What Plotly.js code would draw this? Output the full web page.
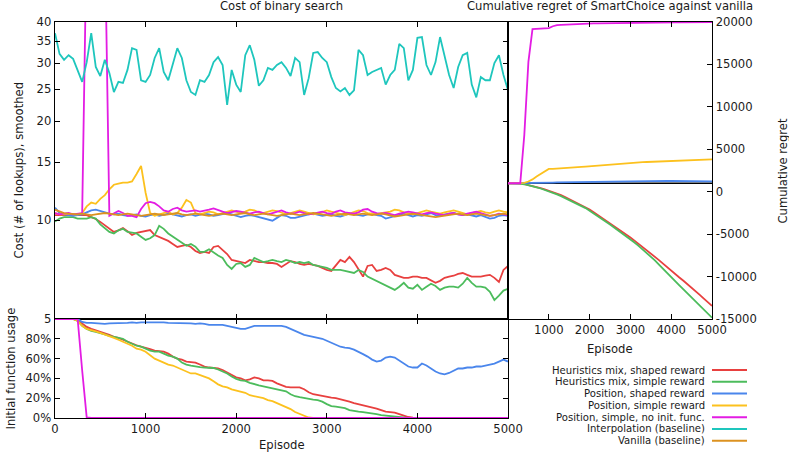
<!DOCTYPE html>
<html>
<head>
<meta charset="utf-8">
<script src="https://cdn.plot.ly/plotly-3.0.1.min.js"></script>
<style>
html,body{margin:0;padding:0;background:#fff;}
#chart{width:789px;height:455px;}
</style>
</head>
<body>
<div id="chart"></div>
<script>
// ---------------- DATA ----------------
const episodes = [0,50,100,150,200,250,300,350,400,450,500,550,600,650,700,750,800,850,900,950,
1000,1050,1100,1150,1200,1250,1300,1350,1400,1450,1500,1550,1600,1650,1700,1750,1800,1850,1900,1950,
2000,2050,2100,2150,2200,2250,2300,2350,2400,2450,2500,2550,2600,2650,2700,2750,2800,2850,2900,2950,
3000,3050,3100,3150,3200,3250,3300,3350,3400,3450,3500,3550,3600,3650,3700,3750,3800,3850,3900,3950,
4000,4050,4100,4150,4200,4250,4300,4350,4400,4450,4500,4550,4600,4650,4700,4750,4800,4850,4900,4950,5000];

const seriesNames = [
  "Heuristics mix, shaped reward",
  "Heuristics mix, simple reward",
  "Position, shaped reward",
  "Position, simple reward",
  "Position, simple, no init. func.",
  "Interpolation (baseline)",
  "Vanilla (baseline)"
];
const seriesColors = ["#e8403f","#4cbc5c","#4a86ec","#fcc11e","#e31ce3","#1ec6bd","#dc9220"];

// Cost of binary search (smoothed), per series
const costHeurShaped = [10.35,10.35,10.3,10.35,10.3,10.35,10.3,10.35,10.2,10.07,
 9.87,9.66,9.4,9.2,9.3,9.45,9.25,9.0,9.14,9.2,
 9.25,9.32,9.0,8.88,8.76,8.64,8.46,8.28,8.34,8.4,
 8.28,8.05,7.94,8.0,7.94,8.28,8.34,8.11,7.88,7.56,
 7.5,7.45,7.4,7.56,7.5,7.45,7.45,7.4,7.4,7.35,
 7.2,7.35,7.5,7.45,7.35,7.3,7.35,7.3,7.25,7.15,
 7.05,7.0,7.25,7.56,7.45,7.72,7.45,7.05,6.73,7.25,
 7.3,7.0,7.05,7.15,7.05,6.81,6.73,6.67,6.67,6.73,
 6.73,6.67,6.67,6.57,6.44,6.53,6.67,6.73,6.77,6.86,
 6.9,6.81,6.73,6.73,6.73,6.77,6.81,6.67,6.48,7.05,
 7.25];
const costHeurSimple = [9.9,10.1,10.2,10.2,10.2,10.1,10.1,10.1,10.2,10.1,
 9.7,9.45,9.2,9.1,9.3,9.4,9.2,9.15,9.1,8.9,
 8.7,8.8,9.0,9.6,9.4,9.1,8.9,8.7,8.5,8.35,
 8.45,8.3,8.0,8.0,8.15,7.95,7.8,7.67,7.3,7.1,
 7.35,7.4,7.2,7.3,7.67,7.56,7.45,7.5,7.56,7.5,
 7.45,7.56,7.5,7.4,7.45,7.4,7.45,7.3,7.25,7.2,
 7.15,7.05,7.05,7.05,7.0,6.95,6.9,7.05,6.95,6.73,
 6.62,6.53,6.44,6.3,6.23,6.13,6.27,6.44,6.23,6.18,
 6.35,6.13,6.27,6.4,6.3,6.13,6.23,6.27,6.27,6.23,
 6.4,6.67,6.44,6.27,6.27,6.23,6.05,5.71,5.89,6.1,
 6.18];
const costPosShaped = [10.9,10.5,10.4,10.35,10.3,10.35,10.4,10.55,10.7,10.75,
 10.65,10.5,10.45,10.4,10.45,10.35,10.3,10.35,10.4,10.3,
 10.25,10.35,10.4,10.3,10.35,10.45,10.4,10.3,10.25,10.35,
 10.4,10.3,10.35,10.45,10.4,10.3,10.35,10.4,10.5,10.4,
 10.3,10.2,10.3,10.35,10.3,10.2,10.15,10.05,9.95,10.15,
 10.35,10.3,10.15,10.15,10.25,10.35,10.4,10.45,10.35,10.3,
 10.35,10.4,10.3,10.25,10.35,10.45,10.4,10.35,10.3,10.4,
 10.45,10.35,10.3,10.1,10.2,10.3,10.4,10.45,10.35,10.25,
 10.35,10.3,10.4,10.5,10.35,10.3,10.4,10.45,10.5,10.4,
 10.35,10.4,10.3,10.25,10.35,10.2,10.1,10.15,10.3,10.35,
 10.3];
const costPosSimple = [10.5,10.4,10.4,10.45,10.4,10.4,10.5,11.0,11.3,11.2,
 11.6,11.9,12.4,12.8,12.9,13.0,13.0,13.1,13.8,14.6,
 12.1,10.5,10.3,10.4,10.5,10.6,10.4,10.5,10.9,11.5,
 11.3,10.5,10.4,10.5,10.6,10.55,10.4,10.5,10.6,10.7,
 10.6,10.5,10.6,10.75,10.7,10.55,10.5,10.6,10.7,10.65,
 10.5,10.4,10.5,10.6,10.7,10.6,10.5,10.4,10.45,10.55,
 10.7,10.6,10.5,10.4,10.35,10.45,10.6,10.7,10.65,10.5,
 10.45,10.4,10.5,10.55,10.6,10.75,10.7,10.55,10.45,10.4,
 10.5,10.6,10.7,10.6,10.5,10.45,10.55,10.65,10.7,10.6,
 10.5,10.4,10.5,10.6,10.65,10.55,10.5,10.6,10.7,10.6,
 10.55];
const costPosNoInit = [10.5,10.4,10.45,10.5,10.4,10.45,10.5,75,75,75,
 75,75,10.3,10.5,10.65,10.5,10.3,10.3,10.2,10.8,
 11.25,11.35,11.25,11.0,10.7,10.6,10.8,10.9,10.7,10.6,
 10.65,10.7,10.6,10.65,10.75,10.85,10.7,10.6,10.5,10.55,
 10.65,10.6,10.5,10.45,10.55,10.6,10.5,10.4,10.5,10.6,
 10.7,10.55,10.45,10.5,10.6,10.5,10.4,10.45,10.55,10.6,
 10.5,10.45,10.6,10.7,10.55,10.5,10.45,10.55,10.75,10.8,
 10.6,10.5,10.45,10.5,10.4,10.35,10.45,10.5,10.6,10.55,
 10.45,10.4,10.5,10.55,10.45,10.4,10.35,10.45,10.5,10.4,
 10.35,10.45,10.55,10.6,10.5,10.4,10.3,10.35,10.45,10.4,
 10.35];
const costInterp = [37.0,32.0,30.7,31.7,30.9,28.6,26.3,30.2,37.0,29.2,
 27.4,30.7,28.0,24.5,26.3,26.1,28.6,33.3,32.9,26.6,
 26.3,27.6,31.1,33.3,28.2,26.6,30.0,33.3,31.1,26.6,
 24.5,24.0,26.6,26.3,27.6,30.2,31.3,29.6,22.4,28.6,
 25.8,24.5,31.7,34.0,30.7,25.6,26.6,29.0,28.6,29.6,
 30.2,29.0,27.4,31.1,30.2,24.0,27.0,32.2,32.4,31.1,
 30.2,27.2,25.2,24.6,25.2,24.0,24.8,32.9,31.7,27.6,
 28.2,28.6,29.0,25.8,27.6,28.6,34.3,33.3,26.6,28.6,
 35.8,36.0,29.6,27.6,30.2,36.0,31.7,27.6,25.2,29.2,
 31.7,32.2,25.8,23.6,27.2,26.6,26.6,30.0,31.7,27.6,
 24.8];
const costVanilla = [10.75,10.6,10.5,10.45,10.4,10.4,10.45,10.4,10.35,10.4,
 10.45,10.5,10.45,10.4,10.35,10.4,10.45,10.4,10.35,10.3,
 10.35,10.4,10.45,10.4,10.35,10.4,10.45,10.5,10.4,10.35,
 10.4,10.45,10.4,10.35,10.3,10.35,10.4,10.45,10.4,10.35,
 10.4,10.45,10.5,10.4,10.35,10.4,10.45,10.4,10.35,10.3,
 10.35,10.4,10.45,10.4,10.35,10.4,10.45,10.5,10.45,10.4,
 10.35,10.3,10.35,10.4,10.45,10.4,10.35,10.4,10.45,10.4,
 10.35,10.4,10.45,10.4,10.3,10.25,10.3,10.35,10.4,10.45,
 10.4,10.35,10.3,10.25,10.2,10.25,10.3,10.35,10.4,10.45,
 10.4,10.35,10.4,10.45,10.4,10.35,10.3,10.35,10.4,10.45,
 10.4];

// Initial function usage (%)
const usageHeurShaped = [100,100,100,100,100,99,95,92,90,88.5,
 87,86,84,82,81,79,77,75.5,73.5,72,
 71,69.5,68,67.5,67,65,62,60,59,57,
 56.5,56,54,52,51,50.5,50,48.5,46,43.5,
 41,40,38,39,41,40,38,38,37.5,35,
 33,31.5,31,31,31,29,26,24,23,22,
 21,20.5,20,19,18,16.5,15,14,12.5,11.5,
 10.5,9.5,8,6.5,6,5.5,4,2.5,1,0.3,
 0,0,0,0,0,0,0,0,0,0,
 0,0,0,0,0,0,0,0,0,0,
 0];
const usageHeurSimple = [100,100,100,100,100,98,93,90,88,87,
 86,84.5,83,82,81.5,80,77,75,73,72,
 70,68,67,67,65,63,62,60,56,54,
 53,52,51.5,51,50.5,50.5,49,47,45,42,
 39.5,38,37.5,35.5,34,33,32,31,29.5,28.5,
 28,27,24,22,21,20,19,18.5,18,16.5,
 14,12,11.5,11,10,8,7,6.5,6,5.5,
 5,4,3,2.5,2,1,0.5,0,0,0,
 0,0,0,0,0,0,0,0,0,0,
 0,0,0,0,0,0,0,0,0,0,
 0];
const usagePosShaped = [100,100,100,100,100,100,97,96,96,95.5,
 95,95,95.5,95.5,96,96,96,96.5,96,96.5,
 96.5,96.5,97,97,96.5,96,96,96,95.5,95.5,
 95.5,95,95.5,95,94,94,94,94,93,92,
 91,90,90,91.5,93,93,93,93,93,93,
 93,92,90,88,86,84,83,82,81.5,80,
 78,76,74,72,71,70.5,69,67,64.5,62,
 59,57,58,61,62,61,58,55,52,51,
 51,55,53,50,47,45,44,45.5,48,50,
 50,51,51,52,52,53,54,55,57,59,
 57];
const usagePosSimple = [100,100,100,100,100,98,93,90,89,87.5,
 86,84.5,83,81,79,77,75,73,70,69,
 67,63,60,58,56,54,53,51,49,47,
 45,45,43.5,42,40,37,34,32,31,29,
 28,27,25.5,23,22,21,20,18,17,15,
 13,11,9,6,4,2,0.5,0,0,0,
 0,0,0,0,0,0,0,0,0,0,
 0,0,0,0,0,0,0,0,0,0,
 0,0,0,0,0,0,0,0,0,0,
 0,0,0,0,0,0,0,0,0,0,
 0];
const usagePosNoInit = [100,100,100,100,100,100,48,0.5,0,0,
 0,0,0,0,0,0,0,0,0,0,
 0,0,0,0,0,0,0,0,0,0,
 0,0,0,0,0,0,0,0,0,0,
 0,0,0,0,0,0,0,0,0,0,
 0,0,0,0,0,0,0,0,0,0,
 0,0,0,0,0,0,0,0,0,0,
 0,0,0,0,0,0,0,0,0,0,
 0,0,0,0,0,0,0,0,0,0,
 0,0,0,0,0,0,0,0,0,0,
 0];

// Cumulative regret against vanilla
const regretEpisodes = [0,100,200,300,400,500,600,700,800,900,1000,1100,1200,1300,1400,1500,1600,1700,1800,1900,
2000,2100,2200,2300,2400,2500,2600,2700,2800,2900,3000,3100,3200,3300,3400,3500,3600,3700,3800,3900,
4000,4100,4200,4300,4400,4500,4600,4700,4800,4900,5000];
const regretHeurShaped = [1000,1000,995,970,900,800,680,550,420,280,
 130,-30,-210,-410,-630,-870,-1110,-1360,-1610,-1850,
 -2100,-2420,-2740,-3070,-3400,-3740,-4080,-4420,-4760,-5080,
 -5390,-5760,-6130,-6500,-6880,-7260,-7660,-8060,-8470,-8900,
 -9330,-9720,-10110,-10500,-10890,-11280,-11720,-12160,-12600,-13030,
 -13460];
const regretHeurSimple = [1000,1000,990,960,880,780,660,520,380,220,
 60,-120,-310,-520,-740,-970,-1210,-1450,-1690,-1930,
 -2230,-2540,-2860,-3190,-3530,-3870,-4210,-4550,-4890,-5240,
 -5590,-5980,-6380,-6780,-7200,-7620,-8090,-8590,-9100,-9610,
 -10120,-10580,-11040,-11510,-11980,-12450,-12920,-13400,-13880,-14360,
 -14850];
const regretPosShaped = [1000,1000,1000,1000,1010,1020,1030,1040,1050,1060,
 1070,1080,1090,1100,1100,1110,1120,1130,1140,1150,
 1160,1170,1170,1180,1190,1200,1210,1220,1230,1240,
 1250,1260,1270,1280,1290,1300,1300,1290,1280,1270,
 1260,1250,1240,1230,1220,1210,1210,1210,1220,1230,
 1230];
const regretPosSimple = [1000,1000,1000,1000,1050,1200,1450,1800,2100,2450,
 2680,2700,2720,2750,2780,2800,2840,2880,2920,2960,
 3000,3040,3080,3110,3150,3200,3240,3280,3330,3380,
 3430,3460,3480,3490,3500,3520,3530,3550,3570,3580,
 3600,3620,3640,3660,3680,3700,3720,3740,3760,3780,
 3800];
const regretPosNoInit = [1000,1000,1000,1000,6700,15300,19150,19170,19200,19250,
 19280,19500,19640,19670,19700,19720,19740,19760,19790,19810,
 19820,19830,19840,19850,19860,19880,19890,19900,19910,19915,
 19920,19930,19935,19940,19945,19950,19955,19960,19960,19965,
 19965,19970,19970,19970,19975,19975,19975,19980,19980,19980,
 19980];
const regretBaseline = 1000;

const costTickVals = [5,10,15,20,25,30,35,40];
const usageTickVals = [0,20,40,60,80];
const usageTickText = ["0%","20%","40%","60%","80%"];
const episodeTicks = [0,1000,2000,3000,4000,5000];
const regretEpisodeTicks = [1000,2000,3000,4000,5000];
const regretTickVals = [-15000,-10000,-5000,0,5000,10000,15000,20000];
const regretTickText = ["-15000","-10000","-5000","0","5000","10000","15000","20000"];

// ---------------- BUILD ----------------
const costSeries = [costHeurShaped,costHeurSimple,costPosShaped,costPosSimple,costPosNoInit,costInterp,costVanilla];
const usageSeries = [usageHeurShaped,usageHeurSimple,usagePosShaped,usagePosSimple,usagePosNoInit];
const regretSeries = [regretHeurShaped,regretHeurSimple,regretPosShaped,regretPosSimple,regretPosNoInit];

const LW = 1.8;
const traces = [];
costSeries.forEach((ys,i)=>traces.push({x:episodes,y:ys,xaxis:'x',yaxis:'y',type:'scatter',mode:'lines',
  line:{color:seriesColors[i],width:LW},showlegend:false,hoverinfo:'skip'}));
usageSeries.forEach((ys,i)=>traces.push({x:episodes,y:ys,xaxis:'x2',yaxis:'y2',type:'scatter',mode:'lines',
  line:{color:seriesColors[i],width:LW},showlegend:false,hoverinfo:'skip'}));
regretSeries.forEach((ys,i)=>traces.push({x:regretEpisodes,y:ys,xaxis:'x3',yaxis:'y3',type:'scatter',mode:'lines',
  line:{color:seriesColors[i],width:LW},showlegend:false,hoverinfo:'skip'}));

const FONT = {family:'DejaVu Sans, sans-serif', size:11.6, color:'#1a1a1a'};
const LEGFONT = {family:'DejaVu Sans, sans-serif', size:10.1, color:'#1a1a1a'};
const axBase = {showgrid:false, zeroline:false, showline:true, linecolor:'#000', linewidth:1.4,
  ticks:'inside', ticklen:5, tickwidth:1, tickcolor:'#000', tickfont:FONT};

const L=55, R=712, T=22, B=418;
const W=R-L, H=B-T;
const px = v => (v-L)/W;
const py = v => (B-v)/H;
const split = px(508);

const layout = {
  width:789, height:455,
  margin:{l:L, r:789-R, t:T, b:455-B, pad:0},
  paper_bgcolor:'#fff', plot_bgcolor:'#fff',
  font:FONT,
  showlegend:false,
  xaxis:Object.assign({}, axBase, {domain:[0,split], anchor:'y', range:[0,5000], tickvals:episodeTicks,
    showticklabels:false, mirror:'ticks'}),
  yaxis:Object.assign({}, axBase, {domain:[0.25,1], anchor:'x', type:'log', range:[Math.log10(5),Math.log10(40)],
    tickvals:costTickVals, ticktext:costTickVals.map(String), mirror:'ticks'}),
  xaxis2:Object.assign({}, axBase, {domain:[0,split], anchor:'y2', range:[0,5000], tickvals:episodeTicks,
    ticktext:episodeTicks.map(String), mirror:'ticks'}),
  yaxis2:Object.assign({}, axBase, {domain:[0,0.25], anchor:'x2', range:[0,100], tickvals:usageTickVals,
    ticktext:usageTickText, mirror:'ticks'}),
  xaxis3:Object.assign({}, axBase, {domain:[split,1], anchor:'y3', range:[0,5000], tickvals:regretEpisodeTicks,
    ticktext:regretEpisodeTicks.map(String), mirror:'ticks'}),
  yaxis3:Object.assign({}, axBase, {domain:[0.25,1], anchor:'x3', side:'right', range:[-15000,20000],
    tickvals:regretTickVals, ticktext:regretTickText, mirror:true}),
  shapes:[
    {type:'line', xref:'x3', yref:'y3', x0:0, x1:5000, y0:regretBaseline, y1:regretBaseline,
     line:{color:'#000', width:1.5}, layer:'below'}
  ],
  annotations:[
    {text:'Cost of binary search', xref:'paper', yref:'paper', x:px(281.5), y:py(6), xanchor:'center', yanchor:'middle', showarrow:false, font:FONT},
    {text:'Cumulative regret of SmartChoice against vanilla', xref:'paper', yref:'paper', x:px(609.5), y:py(6), xanchor:'center', yanchor:'middle', showarrow:false, font:FONT},
    {text:'Cost (# of lookups), smoothed', xref:'paper', yref:'paper', x:px(18), y:py(170.5), xanchor:'center', yanchor:'middle', textangle:-90, showarrow:false, font:FONT},
    {text:'Initial function usage', xref:'paper', yref:'paper', x:px(10), y:py(368.5), xanchor:'center', yanchor:'middle', textangle:-90, showarrow:false, font:FONT},
    {text:'Episode', xref:'paper', yref:'paper', x:px(281.5), y:py(445), xanchor:'center', yanchor:'middle', showarrow:false, font:FONT},
    {text:'Episode', xref:'paper', yref:'paper', x:px(609.5), y:py(349), xanchor:'center', yanchor:'middle', showarrow:false, font:FONT},
    {text:'Cumulative regret', xref:'paper', yref:'paper', x:px(782), y:py(170.5), xanchor:'center', yanchor:'middle', textangle:-90, showarrow:false, font:FONT}
  ]
};

// legend (text right-aligned, sample line on the right)
seriesNames.forEach((name,i)=>{
  const yc = 370 + i*11.8;
  layout.annotations.push({text:name, xref:'paper', yref:'paper', x:px(706), y:py(yc), xanchor:'right', yanchor:'middle',
    showarrow:false, font:LEGFONT, borderpad:0});
  layout.shapes.push({type:'line', xref:'paper', yref:'paper', x0:px(712), x1:px(747), y0:py(yc), y1:py(yc),
    line:{color:seriesColors[i], width:2}});
});

Plotly.newPlot('chart', traces, layout, {staticPlot:true, displayModeBar:false});
</script>
</body>
</html>
